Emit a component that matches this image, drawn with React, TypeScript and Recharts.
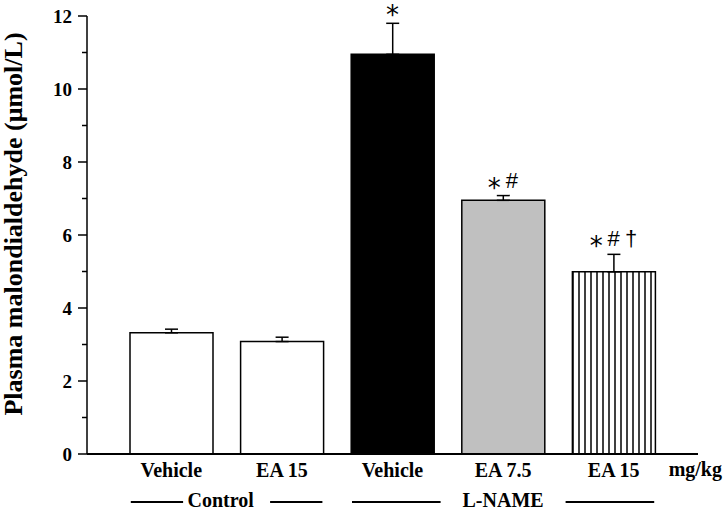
import React from 'react';
import { ComposedChart, Bar, Cell, XAxis, YAxis, ErrorBar, Line, LabelList } from 'recharts';

const categories = ['Vehicle', 'EA 15', 'Vehicle', 'EA 7.5', 'EA 15'];
const values = [3.32, 3.08, 10.95, 6.95, 4.99];
const errors = [0.1, 0.12, 0.85, 0.13, 0.48];
const marks = ['', '', '*', '*#', '*#\u2020'];
const fills = ['#ffffff', '#ffffff', '#000000', '#c0c0c0', 'url(#hatch)'];
const yTicks = [0, 1, 2, 3, 4, 5, 6, 7, 8, 9, 10, 11, 12];
const groupNames = ['Control', 'L-NAME'];
const groupCenters = [0.5, 3];
const groupFrom = [0, 2];
const groupTo = [1, 4];

const W = 726;
const H = 512;
const MARGIN = { top: 16, right: 28, bottom: 0, left: 0 };
const Y_W = 87;
const PAD = 29;
const BAR = 83;
const UNIT = (W - MARGIN.left - MARGIN.right - Y_W - 2 * PAD) / categories.length;
const SERIF = '"Liberation Serif", "Times New Roman", serif';
const SANS = '"Liberation Sans", Arial, sans-serif';

// layout tweaks for the group captions (text width, gaps, shift)
const groupTextW = [67, 81];
const groupGapL = [4, 22];
const groupGapR = [16, 22];
const groupShift = [-6, 0];

const data = categories.map((c, i) => ({
  idx: i,
  cat: c,
  value: values[i],
  err: [0, errors[i]],
  top: values[i] + errors[i],
  sig: marks[i],
}));

const YTick = (props: any) => {
  const { x, y, payload } = props;
  const v = payload.value;
  const major = v % 2 === 0;
  return (
    <g>
      <line x1={x - (major ? 9 : 5)} x2={x} y1={y} y2={y} stroke="#000" strokeWidth={1.5} />
      {major && (
        <text x={x - 15} y={y} dy="0.35em" textAnchor="end" fontFamily={SERIF} fontWeight="bold" fontSize={19} fill="#000">
          {v}
        </text>
      )}
    </g>
  );
};

const XTick = (props: any) => {
  const { x, y, payload } = props;
  return (
    <text x={x} y={y + 23} textAnchor="middle" fontFamily={SERIF} fontWeight="bold" fontSize={20} fill="#000">
      {categories[payload.value]}
    </text>
  );
};

const GroupTick = (props: any) => {
  const { x, y, payload } = props;
  const g = groupCenters.indexOf(payload.value);
  if (g < 0) return null;
  const start = x + (groupFrom[g] - groupCenters[g]) * UNIT - BAR / 2 + 1;
  const end = x + (groupTo[g] - groupCenters[g]) * UNIT + BAR / 2 - 1;
  const tc = x + groupShift[g];
  const leftEnd = tc - groupTextW[g] / 2 - groupGapL[g];
  const rightStart = tc + groupTextW[g] / 2 + groupGapR[g];
  return (
    <g>
      <line x1={start} x2={leftEnd} y1={y + 18} y2={y + 18} stroke="#000" strokeWidth={2} />
      <line x1={rightStart} x2={end} y1={y + 18} y2={y + 18} stroke="#000" strokeWidth={2} />
      <text x={tc} y={y + 23} textAnchor="middle" fontFamily={SERIF} fontWeight="bold" fontSize={20} fill="#000">
        {groupNames[g]}
      </text>
    </g>
  );
};

const UnitLabel = (props: any) => {
  const { viewBox } = props;
  if (!viewBox) return null;
  return (
    <text x={viewBox.x + viewBox.width + 24} y={viewBox.y + 22} textAnchor="end" fontFamily={SERIF} fontWeight="bold" fontSize={20} fill="#000">
      mg/kg
    </text>
  );
};

const YTitle = (props: any) => {
  const { viewBox } = props;
  if (!viewBox) return null;
  const cx = viewBox.x + 22;
  const cy = viewBox.y + viewBox.height / 2 - 11;
  return (
    <text x={cx} y={cy} transform={`rotate(-90 ${cx} ${cy})`} textAnchor="middle" fontFamily={SERIF} fontWeight="bold" fontSize={26} fill="#000">
      Plasma malondialdehyde (μmol/L)
    </text>
  );
};

const SigLabel = (props: any) => {
  const { x, y, value } = props;
  if (!value) return null;
  const chars = String(value).split('');
  const n = chars.length;
  return (
    <g>
      {chars.map((ch, i) => {
        const cx = x + (i - (n - 1) / 2) * 17.5;
        if (ch === '*') {
          return (
            <text key={i} x={cx} y={y + 1} textAnchor="middle" fontFamily='"DejaVu Sans", sans-serif' fontSize={26} fill="#000">
              *
            </text>
          );
        }
        return (
          <text key={i} x={cx} y={y - 8} textAnchor="middle" fontFamily={SANS} fontSize={22} fill="#000">
            {ch}
          </text>
        );
      })}
    </g>
  );
};

export default function App() {
  return (
    <div style={{ position: 'absolute', left: 0, top: 0, width: W, height: H, background: '#fff' }}>
      <svg width={0} height={0} style={{ position: 'absolute' }}>
        <defs>
          <pattern id="hatch" patternUnits="userSpaceOnUse" width={6} height={10}>
            <rect x={0} y={0} width={6} height={10} fill="#fff" />
            <line x1={3} y1={0} x2={3} y2={10} stroke="#000" strokeWidth={1.5} />
          </pattern>
        </defs>
      </svg>
      <ComposedChart width={W} height={H} data={data} margin={MARGIN}>
        <XAxis
          dataKey="idx"
          type="category"
          padding={{ left: PAD, right: PAD }}
          height={30}
          tickSize={0}
          tickMargin={0}
          tickLine={false}
          axisLine={{ stroke: '#000', strokeWidth: 2 }}
          tick={<XTick />}
          label={<UnitLabel />}
        />
        <XAxis
          xAxisId="grp"
          dataKey="idx"
          type="number"
          domain={['dataMin', 'dataMax']}
          ticks={groupCenters}
          padding={{ left: PAD + UNIT / 2, right: PAD + UNIT / 2 }}
          height={28}
          tickSize={0}
          tickMargin={0}
          tickLine={false}
          axisLine={false}
          tick={<GroupTick />}
        />
        <YAxis
          type="number"
          domain={[0, 12]}
          ticks={yTicks}
          interval={0}
          width={Y_W}
          tickSize={0}
          tickMargin={0}
          tickLine={false}
          axisLine={{ stroke: '#000', strokeWidth: 1.5 }}
          tick={<YTick />}
          label={<YTitle />}
        />
        <Bar dataKey="value" barSize={BAR} stroke="#000" strokeWidth={1.5} isAnimationActive={false}>
          {data.map((d, i) => (
            <Cell key={i} fill={fills[i]} />
          ))}
          <ErrorBar dataKey="err" width={6.5} stroke="#000" strokeWidth={1.5} direction="y" isAnimationActive={false} />
        </Bar>
        <Line dataKey="top" stroke="none" dot={false} activeDot={false} isAnimationActive={false} legendType="none">
          <LabelList dataKey="sig" content={<SigLabel />} />
        </Line>
      </ComposedChart>
    </div>
  );
}
